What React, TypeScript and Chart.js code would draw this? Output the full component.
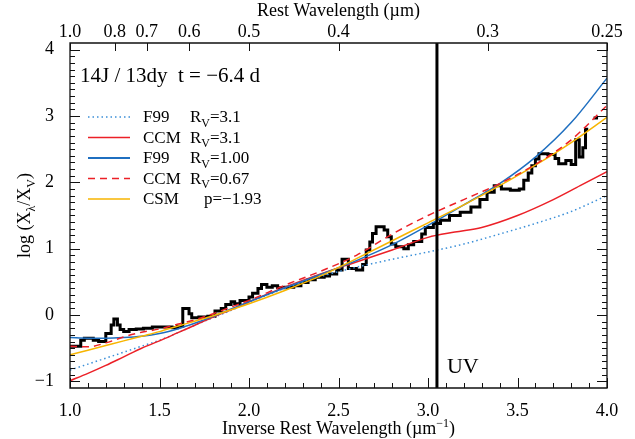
import React, { useEffect, useRef } from 'react';
import { Chart, registerables } from 'chart.js';
Chart.register(...registerables);

const FONT = '"Liberation Serif", "Times New Roman", serif';

// Top axis: rest wavelength (µm) and its labels
const topWave = [1.0, 0.8, 0.7, 0.6, 0.5, 0.4, 0.3, 0.25];
const topLabels = ['1.0', '0.8', '0.7', '0.6', '0.5', '0.4', '0.3', '0.25'];

// Observed spectrum (step edges, value holds until next edge)
const specX = [1.00, 1.06, 1.08, 1.13, 1.16, 1.20, 1.23, 1.245, 1.265, 1.28, 1.30, 1.33, 1.37, 1.41, 1.46, 1.52, 1.57, 1.60, 1.63, 1.665, 1.68, 1.72, 1.77, 1.81, 1.845, 1.87, 1.90, 1.92, 1.95, 2.00, 2.02, 2.05, 2.07, 2.10, 2.13, 2.16, 2.20, 2.25, 2.29, 2.33, 2.37, 2.42, 2.45, 2.49, 2.52, 2.555, 2.60, 2.635, 2.655, 2.675, 2.69, 2.71, 2.755, 2.775, 2.795, 2.82, 2.865, 2.89, 2.92, 2.965, 2.985, 3.03, 3.07, 3.12, 3.18, 3.24, 3.29, 3.33, 3.37, 3.41, 3.46, 3.51, 3.535, 3.56, 3.58, 3.60, 3.62, 3.67, 3.71, 3.73, 3.77, 3.80, 3.825, 3.845, 3.865, 3.88, 3.895];
const specY = [-0.47, -0.38, -0.35, -0.38, -0.40, -0.28, -0.15, -0.06, -0.15, -0.22, -0.25, -0.22, -0.21, -0.20, -0.18, -0.18, -0.19, -0.17, 0.10, 0.02, -0.04, -0.03, -0.02, 0.06, 0.10, 0.16, 0.20, 0.17, 0.22, 0.27, 0.33, 0.40, 0.46, 0.42, 0.44, 0.41, 0.42, 0.44, 0.49, 0.53, 0.57, 0.59, 0.62, 0.68, 0.84, 0.70, 0.68, 0.76, 0.98, 1.10, 1.23, 1.33, 1.28, 1.18, 1.07, 1.03, 1.00, 1.06, 1.11, 1.22, 1.32, 1.38, 1.43, 1.50, 1.55, 1.63, 1.74, 1.85, 1.95, 1.90, 1.88, 1.90, 2.03, 2.14, 2.25, 2.35, 2.43, 2.42, 2.36, 2.28, 2.33, 2.27, 2.64, 2.38, 2.52, 2.80, 2.80];
const specTailX = [3.925, 3.95];
const specTailY = [2.97, 2.97];

// Model curves
const modelX = [1.0, 1.1, 1.2, 1.3, 1.4, 1.5, 1.6, 1.7, 1.8, 1.9, 2.0, 2.2, 2.4, 2.6, 2.8, 3.0, 3.2, 3.4, 3.6, 3.8, 4.0];
const f99Rv31 = [-0.83, -0.74, -0.65, -0.56, -0.47, -0.38, -0.27, -0.15, -0.04, 0.07, 0.19, 0.40, 0.58, 0.72, 0.84, 0.95, 1.07, 1.22, 1.38, 1.56, 1.80];
const f99Rv100 = [-0.34, -0.35, -0.35, -0.34, -0.32, -0.28, -0.21, -0.12, -0.02, 0.09, 0.20, 0.41, 0.61, 0.82, 1.06, 1.35, 1.66, 1.98, 2.38, 2.90, 3.57];
const ccmRv067 = [-0.47, -0.48, -0.42, -0.33, -0.26, -0.21, -0.14, -0.07, 0.02, 0.12, 0.22, 0.45, 0.66, 0.90, 1.22, 1.50, 1.74, 1.98, 2.27, 2.64, 3.16];
const csmP193 = [-0.60, -0.53, -0.46, -0.39, -0.32, -0.25, -0.17, -0.09, -0.01, 0.08, 0.17, 0.37, 0.59, 0.85, 1.12, 1.39, 1.66, 1.95, 2.26, 2.60, 2.98];
const ccmX = [1.0, 1.1, 1.2, 1.3, 1.4, 1.5, 1.6, 1.7, 1.8, 1.9, 2.0, 2.2, 2.4, 2.6, 2.8, 3.0, 3.15, 3.3, 3.5, 3.7, 3.85, 4.0];
const ccmRv31 = [-0.99, -0.88, -0.76, -0.63, -0.50, -0.39, -0.27, -0.15, -0.03, 0.08, 0.20, 0.42, 0.62, 0.80, 0.98, 1.17, 1.25, 1.32, 1.50, 1.74, 1.95, 2.16];

const uvLineX = 3.05;

const legendNames = ['F99', 'CCM', 'F99', 'CCM', 'CSM'];
const legendParams = ['=3.1', '=3.1', '=1.00', '=0.67', 'p=\u22121.93'];

const BLUE = '#1f6fc0';
const BLUE_DOT = '#3b8fd8';
const RED = '#ec2027';
const ORANGE = '#f7b500';

const pts = (xs: number[], ys: number[]) => xs.map((x, i) => ({ x, y: ys[i] }));

function drawSubText(ctx: CanvasRenderingContext2D, parts: { t: string; s?: 'sub' | 'sup' }[], x: number, y: number, size: number) {
  let cx = x;
  for (const p of parts) {
    if (p.s === 'sub') {
      ctx.font = `${Math.round(size * 0.68)}px ${FONT}`;
      ctx.fillText(p.t, cx, y + size * 0.28);
    } else if (p.s === 'sup') {
      ctx.font = `${Math.round(size * 0.68)}px ${FONT}`;
      ctx.fillText(p.t, cx, y - size * 0.38);
    } else {
      ctx.font = `${size}px ${FONT}`;
      ctx.fillText(p.t, cx, y);
    }
    cx += ctx.measureText(p.t).width;
  }
  return cx - x;
}

function measureParts(ctx: CanvasRenderingContext2D, parts: { t: string; s?: 'sub' | 'sup' }[], size: number) {
  let w = 0;
  for (const p of parts) {
    ctx.font = p.s ? `${Math.round(size * 0.68)}px ${FONT}` : `${size}px ${FONT}`;
    w += ctx.measureText(p.t).width;
  }
  return w;
}

const decorPlugin = {
  id: 'decor',
  afterDatasetsDraw(chart: any) {
    const { ctx, chartArea: a, scales } = chart;
    const xs = scales.x;
    const ys = scales.y;
    const xt = scales.xTop;
    ctx.save();
    ctx.strokeStyle = '#111';
    ctx.lineWidth = 1.3;
    ctx.beginPath();
    ctx.rect(a.left, a.top, a.right - a.left, a.bottom - a.top);
    ctx.stroke();

    ctx.lineWidth = 1;
    ctx.beginPath();
    // bottom ticks
    for (let k = 0; k <= 30; k++) {
      const v = 1 + k * 0.1;
      const px = Math.round(xs.getPixelForValue(v)) + 0.5;
      const len = k % 5 === 0 ? 10 : 5;
      ctx.moveTo(px, a.bottom);
      ctx.lineTo(px, a.bottom - len);
    }
    // top ticks
    for (const w of topWave) {
      const px = Math.round(xt.getPixelForValue(1 / w)) + 0.5;
      ctx.moveTo(px, a.top);
      ctx.lineTo(px, a.top + 8);
    }
    // left/right ticks
    for (let k = -10; k <= 40; k++) {
      const v = k * 0.1;
      const py = Math.round(ys.getPixelForValue(v)) + 0.5;
      const len = k % 10 === 0 ? 10 : 5;
      ctx.moveTo(a.left, py);
      ctx.lineTo(a.left + len, py);
      ctx.moveTo(a.right, py);
      ctx.lineTo(a.right - len, py);
    }
    ctx.stroke();

    ctx.fillStyle = '#000';
    ctx.textBaseline = 'alphabetic';
    ctx.textAlign = 'left';

    // Axis titles
    const topParts = [{ t: 'Rest Wavelength (\u00b5m)' }];
    const tw = measureParts(ctx, topParts, 18);
    drawSubText(ctx, topParts, (a.left + a.right) / 2 - tw / 2, 16, 18);

    const botParts: any[] = [{ t: 'Inverse Rest Wavelength (\u00b5m' }, { t: '\u22121', s: 'sup' }, { t: ')' }];
    const bw = measureParts(ctx, botParts, 18);
    drawSubText(ctx, botParts, (a.left + a.right) / 2 - bw / 2, 434, 18);

    const yParts: any[] = [{ t: 'log (X' }, { t: '\u03bb', s: 'sub' }, { t: '/X' }, { t: 'V', s: 'sub' }, { t: ')' }];
    const yw = measureParts(ctx, yParts, 18);
    ctx.save();
    ctx.translate(30, (a.top + a.bottom) / 2);
    ctx.rotate(-Math.PI / 2);
    drawSubText(ctx, yParts, -yw / 2, 0, 18);
    ctx.restore();

    // Panel title
    ctx.font = `21px ${FONT}`;
    ctx.fillText('14J / 13dy  t = \u22126.4 d', a.left + 10, 82);

    // UV label
    ctx.font = `22px ${FONT}`;
    ctx.fillText('UV', xs.getPixelForValue(uvLineX) + 10, ys.getPixelForValue(-0.88));

    // Legend
    const styles = [
      { c: BLUE_DOT, dash: [1.5, 3], w: 1.5 },
      { c: RED, dash: [], w: 1.5 },
      { c: BLUE, dash: [], w: 2 },
      { c: RED, dash: [7, 5], w: 1.5 },
      { c: ORANGE, dash: [], w: 1.5 },
    ];
    const lx0 = a.left + 18;
    const lx1 = a.left + 60;
    const tx = a.left + 73;
    const px = a.left + 120;
    for (let i = 0; i < legendNames.length; i++) {
      const yy = 122 + i * 20.5;
      ctx.save();
      ctx.strokeStyle = styles[i].c;
      ctx.lineWidth = styles[i].w;
      ctx.setLineDash(styles[i].dash);
      ctx.beginPath();
      ctx.moveTo(lx0, yy - 5);
      ctx.lineTo(lx1, yy - 5);
      ctx.stroke();
      ctx.restore();
      ctx.font = `17px ${FONT}`;
      ctx.fillText(legendNames[i], tx, yy);
      if (i < 4) {
        drawSubText(ctx, [{ t: 'R' }, { t: 'V', s: 'sub' }, { t: legendParams[i] }], px, yy, 17);
      } else {
        drawSubText(ctx, [{ t: legendParams[i] }], px + 14, yy, 17);
      }
    }
    ctx.restore();
  },
};

export default function App() {
  const ref = useRef<HTMLCanvasElement>(null);
  useEffect(() => {
    document.body.style.margin = '0';
    const canvas = ref.current;
    if (!canvas) return;
    const lineBase = { pointRadius: 0, fill: false, cubicInterpolationMode: 'monotone' as const };
    const chart = new Chart(canvas, {
      type: 'line',
      data: {
        datasets: [
          { label: 'UV', data: [{ x: uvLineX, y: -1.1 }, { x: uvLineX, y: 4.1 }], borderColor: '#000', borderWidth: 3, pointRadius: 0 },
          { label: 'CCM Rv=0.67', data: pts(modelX, ccmRv067), borderColor: RED, borderWidth: 1.5, borderDash: [7, 5], ...lineBase },
          { label: 'CSM p=-1.93', data: pts(modelX, csmP193), borderColor: ORANGE, borderWidth: 1.5, ...lineBase },
          { label: 'F99 Rv=1.00', data: pts(modelX, f99Rv100), borderColor: BLUE, borderWidth: 1.5, ...lineBase },
          { label: 'CCM Rv=3.1', data: pts(ccmX, ccmRv31), borderColor: RED, borderWidth: 1.5, ...lineBase },
          { label: 'F99 Rv=3.1', data: pts(modelX, f99Rv31), borderColor: BLUE_DOT, borderWidth: 1.5, borderDash: [1.5, 3], ...lineBase },
          { label: 'tail', data: pts(specTailX, specTailY), borderColor: '#000', borderWidth: 3, pointRadius: 0 },
          { label: 'Spectrum', data: pts(specX, specY), borderColor: '#000', borderWidth: 3, stepped: true, pointRadius: 0 },
        ],
      },
      options: {
        animation: false,
        responsive: false,
        layout: { padding: { left: 0, right: 28, top: 0, bottom: 0 } },
        plugins: { legend: { display: false }, tooltip: { enabled: false } },
        scales: {
          x: {
            type: 'linear', position: 'bottom', min: 1, max: 4,
            grid: { display: false }, border: { display: false },
            ticks: { stepSize: 0.5, autoSkip: false, maxRotation: 0, padding: 4, color: '#000', font: { family: FONT, size: 18 }, callback: (v: any) => Number(v).toFixed(1) },
            afterFit: (s: any) => { s.height = 51; },
          },
          xTop: {
            type: 'linear', position: 'top', min: 1, max: 4,
            grid: { display: false }, border: { display: false },
            afterBuildTicks: (s: any) => { s.ticks = topWave.map((w) => ({ value: 1 / w })); },
            ticks: { autoSkip: false, maxRotation: 0, padding: -8, color: '#000', font: { family: FONT, size: 18 }, callback: (_v: any, i: number) => topLabels[i] },
            afterFit: (s: any) => { s.height = 43; },
          },
          y: {
            type: 'linear', position: 'left', min: -1.1, max: 4.1,
            grid: { display: false }, border: { display: false },
            ticks: { stepSize: 1, includeBounds: false, padding: 8, color: '#000', font: { family: FONT, size: 18 }, callback: (v: any) => (v < 0 ? '\u2212' + Math.abs(v) : String(v)) },
            afterFit: (s: any) => { s.width = 70; },
          },
        },
      } as any,
      plugins: [decorPlugin],
    });
    return () => chart.destroy();
  }, []);
  return (
    <div style={{ width: 635, height: 439, background: '#fff' }}>
      <canvas ref={ref} width={635} height={439} style={{ display: 'block', width: 635, height: 439 }} />
    </div>
  );
}
